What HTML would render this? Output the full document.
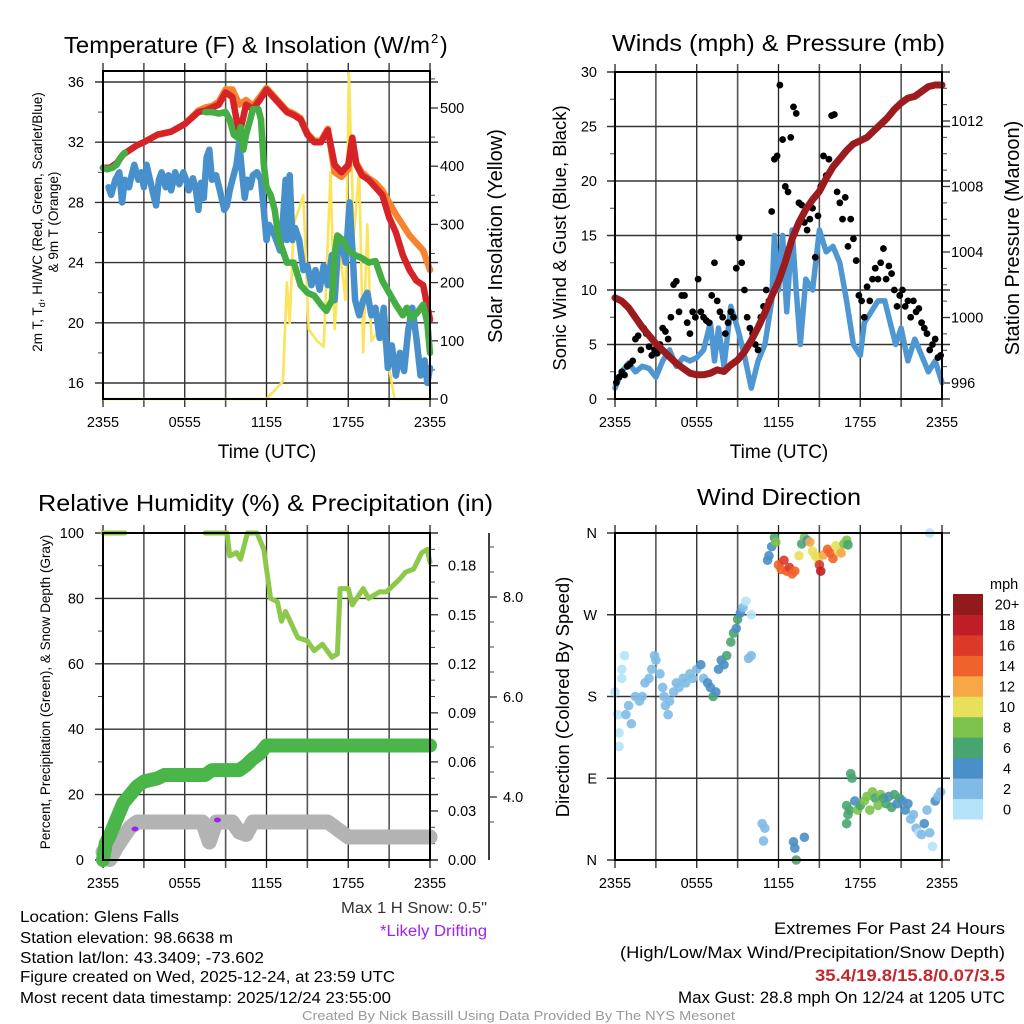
<!DOCTYPE html>
<html><head><meta charset="utf-8">
<style>
html,body{margin:0;padding:0;background:#fff;}
svg{display:block;font-family:"Liberation Sans",sans-serif;}
</style></head>
<body>
<svg id="fig" width="1024" height="1024" viewBox="0 0 1024 1024" xmlns="http://www.w3.org/2000/svg">
<rect x="0" y="0" width="1024" height="1024" fill="#fff"/>
<g id="g-tl"></g>
<g id="g-tr"></g>
<g id="g-bl"></g>
<g id="g-br"></g>
<g id="g-text">
<text x="64" y="53" font-size="23" textLength="366" lengthAdjust="spacingAndGlyphs">Temperature (F) &amp; Insolation (W/m</text>
<text x="431" y="43" font-size="13">2</text>
<text x="440" y="53" font-size="23">)</text>
<text x="612" y="51" font-size="23" textLength="333" lengthAdjust="spacingAndGlyphs">Winds (mph) &amp; Pressure (mb)</text>
<text x="38" y="511" font-size="23" textLength="455" lengthAdjust="spacingAndGlyphs">Relative Humidity (%) &amp; Precipitation (in)</text>
<text x="697" y="505" font-size="23" textLength="164" lengthAdjust="spacingAndGlyphs">Wind Direction</text>
<text x="20" y="922" font-size="15.5" textLength="159" lengthAdjust="spacingAndGlyphs">Location: Glens Falls</text>
<text x="20" y="943" font-size="15.5" textLength="213" lengthAdjust="spacingAndGlyphs">Station elevation: 98.6638 m</text>
<text x="20" y="963" font-size="15.5" textLength="244" lengthAdjust="spacingAndGlyphs">Station lat/lon: 43.3409; -73.602</text>
<text x="20" y="982" font-size="15.5" textLength="375" lengthAdjust="spacingAndGlyphs">Figure created on Wed, 2025-12-24, at 23:59 UTC</text>
<text x="20" y="1003" font-size="15.5" textLength="371" lengthAdjust="spacingAndGlyphs">Most recent data timestamp: 2025/12/24 23:55:00</text>
<text x="341" y="913" font-size="15.5" fill="#333" textLength="146" lengthAdjust="spacingAndGlyphs">Max 1 H Snow: 0.5"</text>
<text x="380" y="936" font-size="15.5" fill="#a020f0" textLength="107" lengthAdjust="spacingAndGlyphs">*Likely Drifting</text>
<text x="774" y="934" font-size="16.5" textLength="231" lengthAdjust="spacingAndGlyphs">Extremes For Past 24 Hours</text>
<text x="620" y="958" font-size="16.5" textLength="385" lengthAdjust="spacingAndGlyphs">(High/Low/Max Wind/Precipitation/Snow Depth)</text>
<text x="815" y="981" font-size="16.5" font-weight="bold" fill="#c4262e" textLength="190" lengthAdjust="spacingAndGlyphs">35.4/19.8/15.8/0.07/3.5</text>
<text x="678" y="1003" font-size="16.5" textLength="327" lengthAdjust="spacingAndGlyphs">Max Gust: 28.8 mph On 12/24 at 1205 UTC</text>
<text x="302" y="1020" font-size="12.5" fill="#999" textLength="433" lengthAdjust="spacingAndGlyphs">Created By Nick Bassill Using Data Provided By The NYS Mesonet</text>
</g>
</svg>
<script>
// ---------------- DATA ----------------
const xTickLabels = ["2355","0555","1155","1755","2355"];
// Temperature panel
const tempHours = [0,0.5,1,1.5,2,2.5,3,4,5,6,7,7.5,8,8.5,9,9.5,10,10.5,11,11.5,12,12.5,13,13.5,14,14.5,15,15.5,16,16.5,17,17.5,18,18.3,18.6,19,19.5,20,20.5,21,21.5,22,22.5,23,23.5,24];
const tempRed = [30.3,30.3,30.6,31.2,31.5,31.8,32.0,32.5,32.7,33.2,34.0,34.1,34.3,34.5,35.3,35.0,32.5,34.5,34.2,34.8,35.5,35.0,34.5,34.0,33.8,33.5,32.5,32.0,32.0,32.8,30.5,30.0,30.5,32.3,30.5,29.8,29.5,29.0,28.5,27.0,26.0,24.5,23.5,22.8,22.5,20.2];
const tempOrange = [30.3,30.3,30.6,31.2,31.5,31.8,32.0,32.5,32.7,33.2,34.1,34.3,34.4,34.7,35.5,35.5,34.5,34.8,34.4,35.0,35.6,35.1,34.6,34.1,33.9,33.6,32.6,32.1,32.1,32.9,30.0,29.7,30.2,32.2,30.6,30.0,29.6,29.3,28.8,28.0,27.2,26.5,25.8,25.3,24.8,23.5];
const dewHours = [0,0.3,0.7,1.0,1.3,1.6,1.7,7.5,8.0,8.5,9.0,9.3,9.6,9.9,10.1,10.3,10.5,10.8,11.0,11.4,11.6,11.8,12.0,12.3,12.6,12.9,13.2,13.5,14.0,14.5,15.0,15.5,16.0,16.4,16.8,17.0,17.2,17.6,18.0,18.5,19.0,19.5,20.0,20.5,21.0,21.5,22.0,22.3,22.6,23.0,23.5,23.8,24.0];
const dewGreen = [30.3,30.2,30.3,30.5,31.0,31.3,null,34.0,34.0,33.9,34.0,33.5,32.5,32.3,33.0,31.5,32.5,33.5,34.2,34.2,33.5,30.5,29.0,28.5,27.5,25.5,24.8,24.0,24.0,22.5,22.0,21.8,21.2,20.8,21.5,24.5,25.8,25.5,24.8,24.5,24.3,24.0,24.1,22.8,22.0,21.2,20.5,21.0,20.3,20.6,21.2,20.0,18.0];
const chillHours = [0.4,0.6,0.9,1.2,1.4,1.6,1.9,2.1,2.3,2.6,2.8,3.0,3.2,3.5,3.7,3.9,4.1,4.3,4.6,4.8,5.0,5.3,5.6,5.9,6.1,6.3,6.6,6.8,7.0,7.2,7.4,7.6,7.8,8.0,8.3,8.6,8.9,9.1,9.3,9.5,9.8,10.0,10.2,10.4,10.6,10.8,11.0,11.3,11.6,11.8,12.0,12.2,12.5,12.8,13.0,13.2,13.4,13.5,13.7,13.9,14.1,14.4,14.7,15.0,15.3,15.6,15.9,16.2,16.5,16.8,17.0,17.2,17.5,17.8,18.1,18.3,18.5,18.8,19.1,19.4,19.7,20.0,20.3,20.6,20.9,21.2,21.5,21.8,22.1,22.4,22.7,23.0,23.3,23.6,23.8,24.0];
const chillBlue = [29,28.5,29.5,30,28,29.5,29,29.8,30.5,29.5,30,29,30.5,29.3,28.5,27.8,29.5,30,29,29.8,28.8,30,29.2,30,29.5,28.8,29.6,29,27.5,29.3,28.3,31,31.5,29.5,29.8,28.7,27.5,27.8,28.8,29.5,30.5,32,30,28.3,29.5,29,29.8,30,29.5,27.5,25.5,26.5,26,25.3,24.8,26.8,29.5,25.5,29.8,25.5,26.3,25.5,23.5,23.8,22.5,23.5,22.2,23.8,22.5,24.5,21.5,24.5,25.5,24,28,25,21.5,20.5,21.5,22,20.5,21,19,21,17,18.5,16.5,18,16.8,19.5,21,19,16.5,17.5,16,17];
const solarHours = [0,12,12.4,13.2,13.5,13.7,14,14.7,15.1,15.7,16.2,16.7,17,17.4,17.8,18.05,18.4,18.8,19.1,19.4,19.7,20.3,20.8,21.4,24];
const solarYellow = [0,0,10,30,200,130,300,350,120,100,90,390,120,250,170,560,280,390,80,300,100,120,80,0,0];
// Wind panel
const gustValues = [1.5,2.0,2.5,2.2,3.0, 3.2,3.5,5.5,5.8,4.5, 6.5,6.0,4.8,4.0,4.5, 4.2,5.0,6.5,6.2,5.5, 7.5,10.5,10.8,8.0,9.5, 9.5,7.0,6.0,8.0,7.5, 11.0,8.0,7.5,7.2,7.0, 9.5,12.5,9.0,8.0,7.5, 6.0,7.0,8.0,7.5,12.0, 14.8,12.5,10.0,7.5,6.5, 6.0,5.0,4.5,7.5,8.5, 10.0,9.0,17.2,22.0,22.3, 28.8,23.8,19.5,19.0,24.0, 26.8,26.2,18.0,17.8,16.2, 15.5,16.5,17.5,13.0,16.8, 19.5,22.3,20.5,22.0,26.0, 26.1,19.0,18.0,16.5,18.5, 14.0,16.5,14.7,12.7,9.5, 9.0,7.5,10.3,9.0,11.0, 12.0,11.0,12.5,13.8,11.0, 12.2,11.5,10.0,8.5,9.5, 10.0,8.5,9.0,7.5,9.0, 8.0,8.3,7.0,6.5,6.0, 4.5,5.0,5.5,3.8,4.0];
const windHours = [0,0.5,1,1.5,2,2.5,3,3.5,4,4.5,5,5.5,6,6.5,7,7.3,7.6,8,8.5,9,9.5,10,10.5,11,11.5,11.7,12,12.3,12.6,13,13.3,13.6,14,14.5,15,15.5,16,16.5,17,17.5,18,18.3,18.8,19.3,19.8,20.2,20.6,21,21.5,22,22.5,23,23.5,24];
const windSpeed = [1.0,2.5,3.3,2.5,3,2.8,2,3.5,4.5,3,3.8,3.5,3.8,4.5,7,3.5,6.5,3,8.5,6.5,4,1,3.5,5,9,15,10,15,8,15.5,10,5,11,10,15.5,13.5,14,12.5,9,5,4,7,8,9,9,7,5,6.5,3.5,5.5,4,2.5,3.5,1.5];
const presHours = [0,0.5,1,1.5,2,2.5,3,3.5,4,4.5,5,5.5,6,6.5,7,7.5,8,8.5,9,9.5,10,10.5,11,11.5,12,12.5,13,13.5,14,14.5,15,15.5,16,16.5,17,17.5,18,18.5,19,19.5,20,20.5,21,21.5,22,22.5,23,23.5,24];
const pressure = [1001.2,1001.0,1000.6,1000.0,999.4,998.9,998.4,998.0,997.6,997.2,996.9,996.6,996.5,996.5,996.6,996.8,996.7,997.1,997.4,997.9,998.6,999.4,1000.3,1001.3,1002.2,1003.4,1004.8,1005.8,1006.6,1007.2,1007.7,1008.5,1009.2,1009.7,1010.2,1010.6,1010.8,1011.0,1011.4,1011.8,1012.2,1012.7,1013.1,1013.4,1013.5,1013.8,1014.1,1014.2,1014.2];
// RH / precip / snow panel
const rhHours = [0,1.6,1.7,7.5,9.1,9.3,9.8,10.1,10.6,11.3,11.8,12.3,12.8,13.1,13.4,14.3,15.0,15.5,16.1,16.8,17.2,17.4,18.0,18.3,19.1,19.5,20.3,20.8,21.8,22.2,22.8,23.4,23.8,24.0];
const rhValues = [100,100,null,100,100,93,94,92,100,100,95,80,79,73,76,68,67,64,66,62,63,83,83,78,83,80,82,82,86,88,89,94,95,91];
const precipHours = [0,0.2,0.5,1,1.5,2,2.5,3,4,4.5,7.5,8,10,10.5,11,11.5,12,24];
const precipValues = [0,0.01,0.015,0.025,0.035,0.04,0.045,0.048,0.05,0.052,0.052,0.055,0.055,0.058,0.062,0.065,0.07,0.07];
const snowHours = [0,0.5,1,1.5,2,2.5,3,7.3,7.8,8.3,9.5,10,10.5,11,16.5,17,17.5,18,24];
const snowDepth = [2.9,2.75,3.0,3.2,3.4,3.5,3.5,3.5,3.1,3.5,3.5,3.3,3.25,3.5,3.5,3.4,3.3,3.2,3.2];
const driftHours = [2.35,8.4];
const driftDepth = [3.36,3.54];
// Wind direction panel
const dirHours = [0,0.2,0.3,0.3,0.5,0.5,0.7,0.8,1,1.2,1.5,1.8,2,2.2,2.5,2.7,2.9,3.0,3.3,3.5,3.6,3.7,3.9,4.0,4.3,4.5,4.7,5.0,5.2,5.5,5.7,6.0,6.3,6.5,6.8,7.0,7.2,7.4,7.6,7.8,8.0,8.2,8.5,8.7,8.9,9.0,9.2,9.4,9.6,10.0,9.8,10.0,10.8,11.0,10.9,13.1,13.2,13.3,13.9,
 11.2,11.3,11.5,11.7,11.8,12.0,12.2,12.4,12.6,12.8,13.0,13.2,13.5,13.7,13.9,14.1,14.3,14.5,14.7,14.9,15.0,15.1,15.3,15.6,15.8,16.0,16.2,16.4,16.6,16.8,17.0,17.1,
 17.3,17.4,17.0,17.2,17.1,17.0,17.6,17.8,18.0,18.3,18.5,18.7,18.9,19.1,19.3,19.5,19.7,19.9,20.1,20.3,20.5,20.7,20.9,21.1,21.3,21.5,21.7,21.9,22.1,22.3,22.5,22.7,22.9,23.1,23.3,23.5,23.7,23.9,23.1];
const dirDegrees = [185,160,140,125,210,200,225,160,170,150,180,175,180,195,200,210,225,220,205,190,180,170,160,175,185,195,190,200,195,205,200,210,215,200,195,190,180,185,210,220,215,225,240,250,255,265,272,278,285,270,222,225,40,35,21,20,13,0,25,
 330,335,345,355,350,325,320,330,318,322,315,318,335,348,355,352,350,340,335,332,325,318,336,342,338,332,346,340,338,348,352,347,
 95,90,60,55,50,40,65,55,60,65,70,55,75,68,60,72,68,62,70,58,72,62,68,65,55,62,45,50,35,30,28,40,55,30,15,65,70,75,360];
const dirSpeeds = [1,1,0.5,1,0.5,1,0.5,2,2,2,2,2,2,2,2,2,2,2,2,2,2,3,3,3,2,2,3,3,3,2,3,3,4,3,4,4,6,4,4,4,4,6,6,6,4,7,4,3,1,1,2,3,3,2,2,5,4,7,4,
 4,4,4,7,9,14,15,16,14,17,15,14,10,7,8,4,12,10,10,10,16,18,13,15,14,15,10,11,12,9,8,7,
 6,6,7,6,6,6,4,8,7,8,8,8,8,7,8,8,6,6,4,6,7,5,6,5,4,4,2,2,2,1,2,4,3,3,1,4,2,2,1];
const colorbarLabels = ["0","2","4","6","8","10","12","14","16","18","20+"];
const colorbarColors = ["#b4e2f7","#7fbbe6","#4a8fc7","#49a56f","#7cc24b","#e7e05b","#f5a844","#ef622a","#dc3928","#bf1e26","#931a1b"];

// ---------------- HELPERS ----------------
const NS = "http://www.w3.org/2000/svg";
function mk(tag, attrs, parent){
  const e = document.createElementNS(NS, tag);
  for (const k in attrs) e.setAttribute(k, attrs[k]);
  if (parent) parent.appendChild(e);
  return e;
}
function pathD(xs, ys, fx, fy){
  let d = "", pen = false;
  for (let i=0;i<xs.length;i++){
    if (ys[i]===null){pen=false;continue;}
    d += (pen?"L":"M") + fx(xs[i]).toFixed(1) + "," + fy(ys[i]).toFixed(1);
    pen = true;
  }
  return d;
}
function txt(parent, x, y, s, size, anchor, extra){
  const t = mk("text", Object.assign({x:x, y:y, "font-size":size, "text-anchor":anchor||"start"}, extra||{}), parent);
  t.textContent = s;
  return t;
}
function speedColor(s){ let b = Math.floor(s/2); if (b>10) b=10; if (b<0) b=0; return colorbarColors[b]; }

function panel(g, L, T, R, B){
  const xf = h => L + (R-L)*h/24;
  for (let i=0;i<=8;i++){
    const x = xf(i*3);
    const gl = mk("line",{x1:x,y1:T-8,x2:x,y2:B+8,stroke:i%2?"#555":"#222","stroke-width":i%2?1.6:1.3},g);
    
    
  }
  for (let i=0;i<xTickLabels.length;i++){
    const t = txt(g, xf(i*6), B+28, xTickLabels[i], 14.5, "middle");
    
    
  }
  return xf;
}
function hgrid(g, L, R, y){
  const l = mk("line",{x1:L-8,y1:y,x2:R+8,y2:y,stroke:"#333","stroke-width":1.4},g);
  
  
}
function frame(g, L, T, R, B){
  const f = mk("rect",{x:L,y:T,width:R-L,height:B-T,fill:"none",stroke:"#000","stroke-width":2},g);
  
  
}
function minor(g, x, y, dir, len){
  const m = mk("line",{x1:x,y1:y,x2:x+dir*len,y2:y,stroke:"#444","stroke-width":1},g);
  
  
}

// ---------------- TOP LEFT: TEMPERATURE ----------------
(function(){
  const g = document.getElementById("g-tl");
  const L=103,T=71,R=430,B=399;
  const xf = panel(g,L,T,R,B);
  const yT = v => 383 - (v-16)*15.05;
  const yS = v => 399 - v*0.582;
  for (let v=16; v<=36; v+=4){
    hgrid(g,L,R,yT(v));
    const t = txt(g, 84, yT(v)+5, String(v), 14.5, "end");
    
    
  }
  for (let v=18; v<=34; v+=4) minor(g, L, yT(v), -1, 5);
  for (let v=0; v<=500; v+=100){
    const tk = mk("line",{x1:R,y1:yS(v),x2:R+8,y2:yS(v),stroke:"#333","stroke-width":1.3},g);
    
    
    const t = txt(g, 440, yS(v)+5, String(v), 14.5, "start");
    
    
  }
  for (let v=50; v<=550; v+=100) minor(g, R, yS(v), 1, 5);
  const sol = mk("path",{d:pathD(solarHours,solarYellow,xf,yS),fill:"none",stroke:"#fbe35a","stroke-width":2.6,"stroke-linejoin":"round"},g);
  
  
  const or = mk("path",{d:pathD(tempHours,tempOrange,xf,yT),fill:"none",stroke:"#f7832e","stroke-width":6.5,"stroke-linejoin":"round","stroke-linecap":"round"},g);
  
  
  const bl = mk("path",{d:pathD(chillHours,chillBlue,xf,yT),fill:"none",stroke:"#4890cb","stroke-width":6.5,"stroke-linejoin":"round","stroke-linecap":"round"},g);
  
  
  const rd = mk("path",{d:pathD(tempHours,tempRed,xf,yT),fill:"none",stroke:"#d62327","stroke-width":6.5,"stroke-linejoin":"round","stroke-linecap":"round"},g);
  
  
  const gr = mk("path",{d:pathD(dewHours,dewGreen,xf,yT),fill:"none",stroke:"#44ad44","stroke-width":6.5,"stroke-linejoin":"round","stroke-linecap":"round"},g);
  
  
  frame(g,L,T,R,B);
  const y1 = mk("text",{x:0,y:0,"font-size":13.5,"text-anchor":"middle",transform:"translate(42,222) rotate(-90)"},g);
  
  
  const s1 = mk("tspan",{},y1); s1.textContent = "2m T, T";
  const s2 = mk("tspan",{"font-size":9,dy:3},y1); s2.textContent = "d";
  const s3 = mk("tspan",{dy:-3},y1); s3.textContent = ", HI/WC (Red, Green, Scarlet/Blue)";
  const y2 = txt(g,0,0,"& 9m T (Orange)",13.5,"middle",{transform:"translate(58,222) rotate(-90)"});
  
  
  const yr = txt(g,0,0,"Solar Insolation (Yellow)",20,"middle",{transform:"translate(502,236) rotate(-90)"});
  
  
  const xt = txt(g,267,458,"Time (UTC)",19,"middle");
  
  
})();

// ---------------- TOP RIGHT: WIND ----------------
(function(){
  const g = document.getElementById("g-tr");
  const L=615,T=72,R=942,B=399;
  const xf = panel(g,L,T,R,B);
  const yW = v => 399 - v*10.9;
  const yP = v => 383 - (v-996)*16.375;
  for (let v=0; v<=30; v+=5){
    hgrid(g,L,R,yW(v));
    const t = txt(g, 597, yW(v)+5, String(v), 14.5, "end");
    
    
  }
  for (let v=2.5; v<30; v+=5) minor(g, L, yW(v), -1, 5);
  for (let v=996; v<=1012; v+=4){
    const tk = mk("line",{x1:R,y1:yP(v),x2:R+8,y2:yP(v),stroke:"#333","stroke-width":1.3},g);
    
    
    const t = txt(g, 951, yP(v)+5, String(v), 14.5, "start");
    
    
  }
  for (let v=997; v<=1014; v++) if (v%4) minor(g, R, yP(v), 1, 5);
  const bl = mk("path",{d:pathD(windHours,windSpeed,xf,yW),fill:"none",stroke:"#4f97d2","stroke-width":5.5,"stroke-linejoin":"round","stroke-linecap":"round"},g);
  
  
  for (let i=0;i<gustValues.length;i++){
    const c = mk("circle",{cx:xf(i/5+0.1),cy:yW(gustValues[i]),r:3.4,fill:"#000"},g);
    
    
  }
  const pr = mk("path",{d:pathD(presHours,pressure,xf,yP),fill:"none",stroke:"#9b1b1e","stroke-width":7,"stroke-linejoin":"round","stroke-linecap":"round"},g);
  
  
  frame(g,L,T,R,B);
  const yl = txt(g,0,0,"Sonic Wind & Gust (Blue, Black)",18.5,"middle",{transform:"translate(566,238) rotate(-90)"});
  
  
  const yr = txt(g,0,0,"Station Pressure (Maroon)",20,"middle",{transform:"translate(1019,238) rotate(-90)"});
  
  
  const xt = txt(g,779,458,"Time (UTC)",19,"middle");
  
  
})();

// ---------------- BOTTOM LEFT: RH ----------------
(function(){
  const g = document.getElementById("g-bl");
  const L=103,T=533,R=430,B=860;
  const xf = panel(g,L,T,R,B);
  const yR = v => 860 - v*3.27;
  const yPr = v => 860 - v/0.2*327;
  const ySn = v => 797 + (4-v)*50;
  for (let v=0; v<=100; v+=20){
    hgrid(g,L,R,yR(v));
    const t = txt(g, 84, yR(v)+5, String(v), 14.5, "end");
    
    
  }
  for (let v=10; v<100; v+=20) minor(g, L, yR(v), -1, 5);
  for (let k=0;k<=6;k++){
    const v = k*0.03;
    const tk = mk("line",{x1:R,y1:yPr(v),x2:R+8,y2:yPr(v),stroke:"#333","stroke-width":1.3},g);
    
    
    const t = txt(g, 448, yPr(v)+5, v.toFixed(2), 14.5, "start");
    
    
  }
  for (let k=0;k<20;k++){ if (k%3) minor(g, R, yPr(k*0.01), 1, 5); }
  const ax = mk("line",{x1:489,y1:533,x2:489,y2:860,stroke:"#000","stroke-width":1.5},g);
  
  
  for (let v=4; v<=8; v+=2){
    const tk = mk("line",{x1:489,y1:ySn(v),x2:497,y2:ySn(v),stroke:"#333","stroke-width":1.3},g);
    
    
    const t = txt(g, 503, ySn(v)+5, v.toFixed(1), 14.5, "start");
    
    
  }
  for (let v=3.5; v<=9; v+=0.5) if (v%2) { const y=ySn(v); if (y>=533&&y<=860) minor(g,489,y,1,5); }
  const sn = mk("path",{d:pathD(snowHours,snowDepth,xf,ySn),fill:"none",stroke:"#b3b3b3","stroke-width":15,"stroke-linejoin":"round","stroke-linecap":"round"},g);
  
  
  const pc = mk("path",{d:pathD(precipHours,precipValues,xf,yPr),fill:"none",stroke:"#4ab549","stroke-width":14,"stroke-linejoin":"round","stroke-linecap":"round"},g);
  
  
  for (let i=0;i<driftHours.length;i++){
    const e = mk("ellipse",{cx:xf(driftHours[i]),cy:ySn(driftDepth[i]),rx:3.5,ry:2.5,fill:"#a020f0"},g);
    
    
  }
  const rh = mk("path",{d:pathD(rhHours,rhValues,xf,yR),fill:"none",stroke:"#8dc84a","stroke-width":5,"stroke-linejoin":"round","stroke-linecap":"round"},g);
  
  
  frame(g,L,T,R,B);
  const yl = txt(g,0,0,"Percent, Precipitation (Green), & Snow Depth (Gray)",13.5,"middle",{transform:"translate(50,692) rotate(-90)"});
  
  
})();

// ---------------- BOTTOM RIGHT: DIRECTION ----------------
(function(){
  const g = document.getElementById("g-br");
  const L=615,T=533,R=942,B=860;
  const xf = panel(g,L,T,R,B);
  const yD = v => 860 - v*0.9083;
  const dl = ["N","E","S","W","N"];
  for (let i=0;i<5;i++){
    hgrid(g,L,R,yD(i*90));
    const t = txt(g, 597, yD(i*90)+5, dl[i], 14.5, "end");
    
    
  }
  for (let i=0;i<dirHours.length;i++){
    const c = mk("circle",{cx:xf(dirHours[i]),cy:yD(dirDegrees[i]),r:4.8,fill:speedColor(dirSpeeds[i]),"fill-opacity":0.9},g);
    
    
  }
  frame(g,L,T,R,B);
  const yl = txt(g,0,0,"Direction (Colored By Speed)",18.5,"middle",{transform:"translate(569,697) rotate(-90)"});
  
  
  const u = txt(g, 990, 589, "mph", 14.5, "start");
  
  
  const top = 594, h = (819-594)/11;
  for (let i=0;i<colorbarColors.length;i++){
    const y = top + (10-i)*h;
    const r = mk("rect",{x:953,y:y,width:30,height:h+0.5,fill:colorbarColors[i]},g);
    
    
    const t = txt(g, 1007, y+h/2+5.5, colorbarLabels[i], 14.5, "middle");
    
    
  }
})();
</script>
</body></html>
